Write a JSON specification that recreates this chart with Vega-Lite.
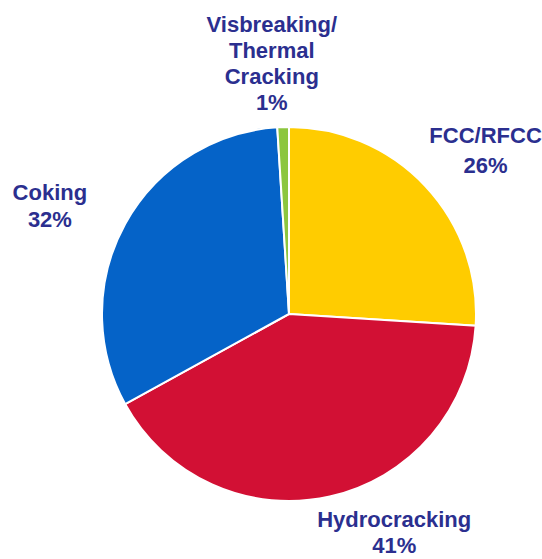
{
  "$schema": "https://vega.github.io/schema/vega-lite/v6.json",
  "width": 506,
  "height": 488,
  "autosize": "none",
  "padding": {"left": 36, "top": 70, "right": 0, "bottom": 1},
  "background": "white",
  "config": {"view": {"stroke": null}, "text": {"fontSize": 22, "fontWeight": "bold", "font": "Liberation Sans", "color": "#2B2F8F", "lineBreak": "\n", "lineHeight": 27, "align": "center", "baseline": "middle"}},
  "data": {
    "values": [
      {"process": "FCC/RFCC", "share": 26, "ord": 1, "label": "FCC/RFCC\n26%"},
      {"process": "Hydrocracking", "share": 41, "ord": 2, "label": "Hydrocracking\n41%"},
      {"process": "Coking", "share": 32, "ord": 3, "label": "Coking\n32%"},
      {"process": "Visbreaking/Thermal Cracking", "share": 1, "ord": 4, "label": "Visbreaking/\nThermal\nCracking\n1%"}
    ]
  },
  "encoding": {
    "theta": {"field": "share", "type": "quantitative", "stack": true},
    "order": {"field": "ord", "type": "quantitative"}
  },
  "layer": [
    {
      "mark": {"type": "arc", "outerRadius": 187, "stroke": "white", "strokeWidth": 2},
      "encoding": {
        "color": {
          "field": "process",
          "type": "nominal",
          "scale": {
            "domain": ["FCC/RFCC", "Hydrocracking", "Coking", "Visbreaking/Thermal Cracking"],
            "range": ["#FFCC00", "#D21034", "#0563C8", "#8CC63F"]
          },
          "legend": null
        }
      }
    },
    {
      "mark": {"type": "text", "radius": 265, "thetaOffset": 0.019, "lineHeight": 30},
      "encoding": {"text": {"condition": {"test": "datum.process !== 'FCC/RFCC'", "value": ""}, "field": "label"}}
    },
    {
      "mark": {"type": "text", "radius": 231, "thetaOffset": -0.253, "lineHeight": 26},
      "encoding": {"text": {"condition": {"test": "datum.process !== 'Hydrocracking'", "value": ""}, "field": "label"}}
    },
    {
      "mark": {"type": "text", "radius": 268, "thetaOffset": -0.034},
      "encoding": {"text": {"condition": {"test": "datum.process !== 'Coking'", "value": ""}, "field": "label"}}
    },
    {
      "mark": {"type": "text", "radius": 290, "thetaOffset": -0.028, "lineHeight": 26},
      "encoding": {"text": {"condition": {"test": "datum.process !== 'Visbreaking/Thermal Cracking'", "value": ""}, "field": "label"}}
    }
  ]
}
